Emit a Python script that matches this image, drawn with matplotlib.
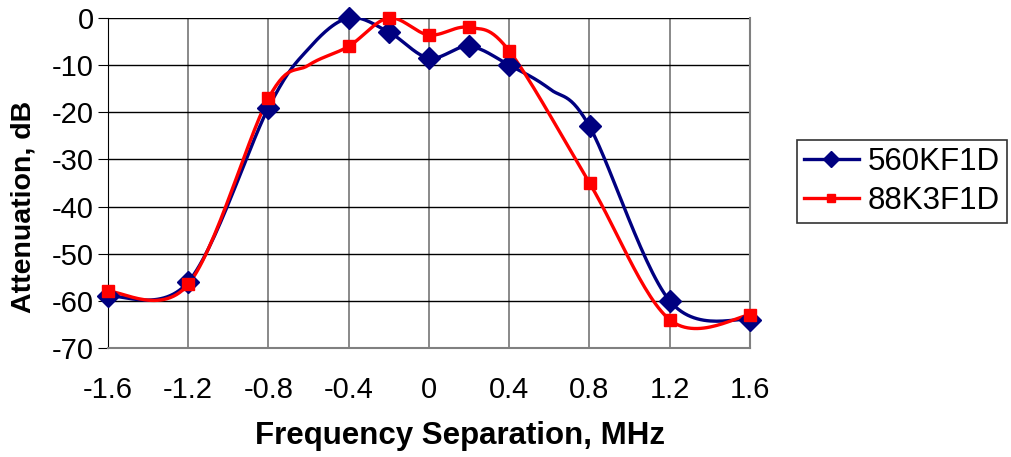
import numpy as np
import matplotlib.pyplot as plt

plt.rcParams['font.family'] = ['Liberation Sans', 'DejaVu Sans']
plt.rcParams['axes.unicode_minus'] = False

# Data
freq = [-1.6, -1.2, -0.8, -0.4, -0.2, 0.0, 0.2, 0.4, 0.8, 1.2, 1.6]
att_560 = [-59, -56, -19, 0, -3, -8.5, -6, -10, -23, -60, -64]
att_88k = [-58, -56.5, -17, -6, 0, -3.6, -2, -7, -35, -64, -63]

# extra unmarked points on the curves (line shape only)
extra_560_x = [-0.6, 0.6]
extra_560_y = [-6.5, -15]
extra_88k_x = [-0.6]
extra_88k_y = [-10]

names = ['560KF1D', '88K3F1D']
colors = ['#000080', '#FF0000']
markers = ['D', 's']


def smooth(xs, ys, n=30):
    # Catmull-Rom like Excel's smoothed line
    order = np.argsort(xs)
    p = np.column_stack([np.asarray(xs, float)[order], np.asarray(ys, float)[order]])
    p = np.vstack([p[0], p, p[-1]])
    out = []
    t = np.linspace(0, 1, n)[:, None]
    for i in range(1, len(p) - 2):
        p0, p1, p2, p3 = p[i - 1], p[i], p[i + 1], p[i + 2]
        seg = 0.5 * ((2 * p1) + (-p0 + p2) * t + (2 * p0 - 5 * p1 + 4 * p2 - p3) * t ** 2
                     + (-p0 + 3 * p1 - 3 * p2 + p3) * t ** 3)
        out.append(seg)
    out = np.vstack(out)
    return out[:, 0], out[:, 1]


fig = plt.figure(figsize=(10.12, 4.57), dpi=100)
ax = fig.add_axes([108 / 1012, 1 - 348 / 457, 642 / 1012, 330 / 457])

series = [
    (att_560, extra_560_x, extra_560_y),
    (att_88k, extra_88k_x, extra_88k_y),
]
for (vals, ex, ey), name, c, m in zip(series, names, colors, markers):
    sx, sy = smooth(list(freq) + ex, list(vals) + ey)
    ax.plot(sx, sy, color=c, lw=2.4, zorder=3, solid_capstyle='round')
    ms = 11 if m == 'D' else 8.5
    ax.plot(freq, vals, linestyle='none', marker=m, color=c, ms=ms, zorder=4, clip_on=False)
    ax.plot([], [], color=c, lw=2.4, marker=m, ms=ms * 0.7, label=name)

ax.set_xlim(-1.6, 1.6)
ax.set_ylim(-70, 0)
ax.set_xticks(np.arange(-1.6, 1.61, 0.4))
ax.set_xticklabels(['-1.6', '-1.2', '-0.8', '-0.4', '0', '0.4', '0.8', '1.2', '1.6'])
ax.set_yticks(np.arange(-70, 1, 10))

ax.yaxis.grid(True, color='black', lw=1)
ax.xaxis.grid(True, color='#808080', lw=1.3)
ax.set_axisbelow(True)

for s in ['right', 'bottom', 'top']:
    ax.spines[s].set_color('#808080')
    ax.spines[s].set_linewidth(1.5)
ax.spines['top'].set_visible(False)
ax.spines['left'].set_color('black')

ax.tick_params(axis='y', direction='out', length=7, labelsize=21, pad=3)
ax.tick_params(axis='x', length=0, labelsize=21, pad=20)

ax.set_xlabel('Frequency Separation, MHz', fontsize=22.5, fontweight='bold')
ax.xaxis.set_label_coords(0.548, -0.267)
ax.xaxis.label.set_va('center')
ax.set_ylabel('Attenuation, dB', fontsize=20.5, fontweight='bold')
ax.yaxis.set_label_coords(-0.112, 0.427)

leg = fig.legend(loc='upper left', bbox_to_anchor=(797 / 1012, 1 - 140 / 457),
                 fontsize=22.5, frameon=True, fancybox=False, edgecolor='black',
                 handlelength=1.75, borderpad=0.22, labelspacing=0.3, handletextpad=0.3,
                 borderaxespad=0)
leg.get_frame().set_linewidth(1.2)

fig.savefig('out.png', dpi=100)
